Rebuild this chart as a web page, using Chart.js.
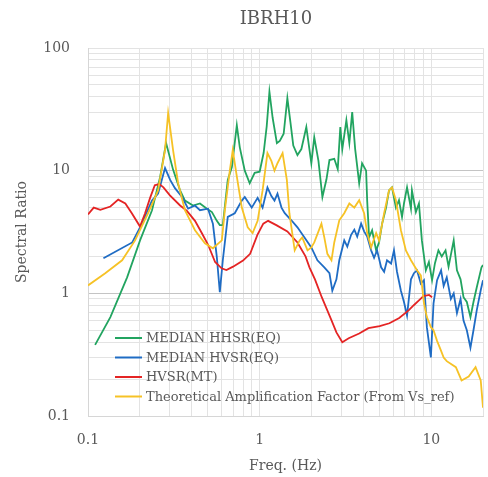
<!DOCTYPE html>
<html>
<head>
<meta charset="utf-8">
<script src="https://cdn.jsdelivr.net/npm/chart.js@4.4.1/dist/chart.umd.min.js"></script>
<style>
  body { margin: 0; background: #fff; }
  canvas { display: block; }
</style>
</head>
<body>
<canvas id="myChart" width="488" height="477"></canvas>
<script>
const chartTitle = "IBRH10"
const seriesNames = ["MEDIAN HHSR(EQ)", "MEDIAN HVSR(EQ)", "HVSR(MT)", "Theoretical Amplification Factor (From Vs_ref)"]

const xTickValues = [0.1, 1, 10]
const xTickLabels = ["0.1", "1", "10"]
const yTickValues = [0.1, 1, 10, 100]
const yTickLabels = ["0.1", "1", "10", "100"]

// MEDIAN HHSR(EQ)
const hhsrFreq = [0.110, 0.135, 0.169, 0.201, 0.236, 0.263, 0.285, 0.313, 0.344, 0.367, 0.409, 0.449, 0.493, 0.527, 0.563, 0.586, 0.610, 0.652, 0.689, 0.736, 0.766, 0.819, 0.875, 0.935, 1.0, 1.055, 1.099, 1.14, 1.19, 1.26, 1.31, 1.38, 1.45, 1.51, 1.57, 1.66, 1.75, 1.87, 2.00, 2.08, 2.20, 2.32, 2.45, 2.55, 2.72, 2.85, 2.95, 3.03, 3.20, 3.33, 3.46, 3.60, 3.80, 3.95, 4.17, 4.23, 4.34, 4.52, 4.77, 4.96, 5.17, 5.45, 5.67, 5.90, 6.22, 6.48, 6.75, 6.93, 7.22, 7.61, 7.71, 8.13, 8.47, 8.81, 9.29, 9.68, 10.1, 10.5, 11.0, 11.5, 12.1, 12.6, 13.5, 14.1, 14.8, 15.4, 16.1, 16.9, 17.6, 18.4, 19.6, 20.0]
const hhsrRatio = [0.38, 0.64, 1.35, 2.7, 4.76, 8.85, 16.8, 10.2, 6.9, 5.7, 5.2, 5.4, 4.9, 4.6, 3.9, 3.6, 3.6, 8.4, 10.7, 23.5, 15.5, 10, 7.9, 9.6, 9.8, 14, 23, 44, 27, 16.8, 17.5, 20, 39, 25, 16, 13.4, 15, 22.7, 11.5, 18.7, 12, 6.1, 8.5, 12.2, 12.5, 10.3, 22.7, 15, 25.8, 16.8, 30, 15, 7.9, 11.5, 10, 5.7, 2.86, 3.27, 2.24, 2.6, 3.7, 5.0, 6.9, 7.3, 5.0, 5.74, 4.2, 5.4, 7.3, 4.9, 6.9, 4.6, 5.4, 2.7, 1.54, 1.8, 1.28, 1.76, 2.24, 2.0, 2.24, 1.65, 2.7, 1.54, 1.3, 0.93, 0.85, 0.64, 0.85, 1.12, 1.63, 1.7]

// MEDIAN HVSR(EQ)
const hvsrFreq = [0.123, 0.181, 0.201, 0.236, 0.256, 0.281, 0.301, 0.321, 0.353, 0.383, 0.420, 0.449, 0.500, 0.534, 0.563, 0.586, 0.610, 0.652, 0.716, 0.787, 0.819, 0.899, 0.973, 1.04, 1.11, 1.17, 1.22, 1.27, 1.34, 1.40, 1.53, 1.66, 1.82, 2.00, 2.17, 2.38, 2.55, 2.65, 2.80, 2.91, 3.11, 3.24, 3.41, 3.56, 3.70, 3.90, 4.06, 4.23, 4.46, 4.64, 4.83, 5.10, 5.31, 5.52, 5.83, 6.06, 6.31, 6.65, 6.93, 7.22, 7.61, 7.92, 8.25, 8.69, 9.06, 9.42, 9.94, 10.3, 10.8, 11.4, 11.8, 12.3, 13.0, 13.5, 14.1, 14.8, 15.4, 16.1, 16.9, 17.6, 18.4, 19.4, 20.0]
const hvsrRatio = [1.93, 2.6, 3.45, 5.7, 6.5, 10.5, 8.4, 7.2, 6.1, 4.9, 5.2, 4.76, 4.9, 3.7, 1.97, 1.02, 1.86, 4.2, 4.5, 5.7, 6.1, 5.0, 6.0, 5.0, 7.3, 6.2, 5.7, 6.5, 5.0, 4.5, 3.94, 3.45, 2.86, 2.37, 1.86, 1.63, 1.46, 1.05, 1.3, 1.86, 2.7, 2.4, 3.0, 3.3, 2.9, 3.7, 3.2, 2.9, 2.24, 1.95, 2.24, 1.63, 1.5, 1.86, 1.75, 2.24, 1.5, 1.05, 0.85, 0.66, 1.3, 1.46, 1.54, 1.2, 1.28, 0.53, 0.30, 0.83, 1.28, 1.54, 1.15, 1.35, 0.9, 1.0, 0.69, 0.9, 0.6, 0.5, 0.36, 0.5, 0.73, 1.06, 1.28]

// HVSR(MT)
const mtFreq = [0.100, 0.108, 0.118, 0.135, 0.150, 0.165, 0.180, 0.201, 0.215, 0.230, 0.245, 0.260, 0.275, 0.300, 0.344, 0.377, 0.420, 0.460, 0.500, 0.550, 0.600, 0.640, 0.700, 0.800, 0.880, 0.970, 1.05, 1.12, 1.25, 1.45, 1.66, 1.85, 1.95, 2.10, 2.30, 2.60, 2.80, 3.03, 3.30, 3.80, 4.30, 5.00, 5.70, 6.50, 7.40, 7.90, 8.50, 9.00, 9.70, 10.1]
const mtRatio = [4.4, 5.0, 4.8, 5.1, 5.8, 5.4, 4.5, 3.5, 4.5, 6.0, 7.6, 7.8, 7.3, 6.3, 5.2, 4.7, 3.9, 3.1, 2.5, 1.8, 1.6, 1.55, 1.65, 1.85, 2.1, 3.0, 3.7, 3.9, 3.6, 3.2, 2.6, 2.0, 1.63, 1.3, 0.93, 0.62, 0.48, 0.40, 0.43, 0.47, 0.52, 0.54, 0.57, 0.63, 0.73, 0.80, 0.88, 0.95, 0.97, 0.93]

// Theoretical Amplification Factor
const theoFreq = [0.100, 0.126, 0.158, 0.188, 0.224, 0.256, 0.281, 0.293, 0.313, 0.335, 0.367, 0.420, 0.480, 0.534, 0.602, 0.627, 0.670, 0.697, 0.736, 0.787, 0.852, 0.910, 0.973, 1.04, 1.11, 1.17, 1.22, 1.27, 1.36, 1.44, 1.49, 1.60, 1.71, 1.77, 1.90, 2.00, 2.08, 2.29, 2.38, 2.48, 2.62, 2.72, 2.91, 3.11, 3.33, 3.56, 3.80, 4.06, 4.23, 4.46, 4.77, 4.96, 5.31, 5.67, 5.90, 6.22, 6.65, 7.11, 7.61, 8.25, 8.69, 9.06, 9.42, 9.94, 10.3, 10.8, 11.4, 11.8, 12.3, 13.9, 15.0, 16.5, 18.1, 19.4, 20.0]
const theoRatio = [1.16, 1.46, 1.86, 2.7, 4.5, 6.9, 14.7, 29.5, 14.7, 7.9, 4.76, 3.27, 2.56, 2.33, 2.7, 4.76, 10, 14.7, 9, 5, 3.45, 3.1, 3.9, 6.9, 13.9, 12, 10, 11.5, 13.9, 8.4, 4.5, 2.24, 2.7, 2.86, 2.24, 2.37, 2.6, 3.7, 2.86, 2.1, 1.86, 2.6, 3.94, 4.5, 5.4, 5.0, 5.74, 4.5, 3.1, 2.37, 3.1, 2.7, 4.5, 6.9, 7.3, 5.74, 3.27, 2.24, 1.86, 1.54, 1.4, 0.83, 0.64, 0.53, 0.5, 0.41, 0.34, 0.30, 0.28, 0.25, 0.195, 0.21, 0.25, 0.195, 0.117]

const lineColors = ["#22a460", "#1f6cc4", "#e42424", "#f6c226"]
const textColor = "#595959"

function toPoints(freq, ratio) {
    return freq.map((f, i) => ({ x: f, y: ratio[i] }))
}

// grid lines at 1..9 x 10^n
function logGrid(min, max) {
    const vals = []
    for (let e = -1; e <= 2; e++) {
        for (let s = 1; s <= 9; s++) {
            const v = Math.round(s * Math.pow(10, e) * 1000) / 1000
            if (v >= min && v <= max) vals.push(v)
        }
    }
    return vals
}

const titlePlugin = {
    id: 'titleText',
    afterDraw(chart) {
        const ctx = chart.ctx
        ctx.save()
        ctx.font = "18px 'DejaVu Serif', serif"
        ctx.fillStyle = textColor
        ctx.textAlign = 'center'
        ctx.textBaseline = 'middle'
        ctx.fillText(chartTitle, 276, 19)
        ctx.restore()
    }
}

const legendPlugin = {
    id: 'insideLegend',
    afterDraw(chart) {
        const ctx = chart.ctx
        ctx.save()
        ctx.font = "13px 'DejaVu Serif', serif"
        ctx.textBaseline = 'middle'
        chart.data.datasets.forEach((ds, i) => {
            const y = 338 + i * 19.5
            ctx.strokeStyle = ds.borderColor
            ctx.lineWidth = 2
            ctx.beginPath()
            ctx.moveTo(115, y)
            ctx.lineTo(142, y)
            ctx.stroke()
            ctx.fillStyle = textColor
            ctx.fillText(ds.label, 146, y + 1)
        })
        ctx.restore()
    }
}

Chart.defaults.font.family = "'DejaVu Serif', serif"
Chart.defaults.color = textColor

const datasets = [
    { label: seriesNames[0], data: toPoints(hhsrFreq, hhsrRatio), borderColor: lineColors[0], order: 3 },
    { label: seriesNames[1], data: toPoints(hvsrFreq, hvsrRatio), borderColor: lineColors[1], order: 2 },
    { label: seriesNames[2], data: toPoints(mtFreq, mtRatio), borderColor: lineColors[2], order: 1 },
    { label: seriesNames[3], data: toPoints(theoFreq, theoRatio), borderColor: lineColors[3], order: 0 }
].map(ds => Object.assign(ds, { borderWidth: 1.8, pointRadius: 0, tension: 0, fill: false }))

new Chart("myChart", {
    type: "line",
    data: { datasets: datasets },
    options: {
        responsive: false,
        animation: false,
        layout: { padding: { top: 48, right: 5, left: 0, bottom: 0 } },
        plugins: {
            legend: { display: false },
            title: { display: false },
            tooltip: { enabled: false }
        },
        scales: {
            x: {
                type: 'logarithmic',
                min: 0.1,
                max: 20,
                afterBuildTicks: scale => { scale.ticks = logGrid(0.1, 20).map(v => ({ value: v })) },
                afterFit: scale => {
                    scale.height = 61
                    scale.paddingLeft = 0
                    scale.paddingRight = 0
                },
                grid: { color: '#e3e3e3', lineWidth: 1, drawTicks: false },
                border: { display: true, color: '#d6d6d6' },
                ticks: {
                    autoSkip: false,
                    maxRotation: 0,
                    padding: 16,
                    font: { size: 14 },
                    callback: value => {
                        const i = xTickValues.indexOf(Math.round(value * 1000) / 1000)
                        return i >= 0 ? xTickLabels[i] : ''
                    }
                },
                title: { display: true, text: 'Freq. (Hz)', font: { size: 14 }, padding: { top: 0, bottom: 2 } }
            },
            y: {
                type: 'logarithmic',
                min: 0.1,
                max: 100,
                afterBuildTicks: scale => { scale.ticks = logGrid(0.1, 100).map(v => ({ value: v })) },
                afterFit: scale => {
                    scale.width = 88
                    scale.paddingTop = 0
                    scale.paddingBottom = 0
                },
                grid: {
                    drawTicks: false,
                    lineWidth: 1,
                    color: ctx => (ctx.tick && (ctx.tick.value === 1 || ctx.tick.value === 10)) ? '#c4c4c4' : '#e3e3e3'
                },
                border: { display: true, color: '#d6d6d6' },
                ticks: {
                    autoSkip: false,
                    padding: 18,
                    font: { size: 14 },
                    callback: value => {
                        const i = yTickValues.indexOf(Math.round(value * 1000) / 1000)
                        return i >= 0 ? yTickLabels[i] : ''
                    }
                },
                title: { display: true, text: 'Spectral Ratio', font: { size: 14 }, padding: { top: 14, bottom: 0 } }
            }
        }
    },
    plugins: [titlePlugin, legendPlugin]
});
</script>
</body>
</html>
